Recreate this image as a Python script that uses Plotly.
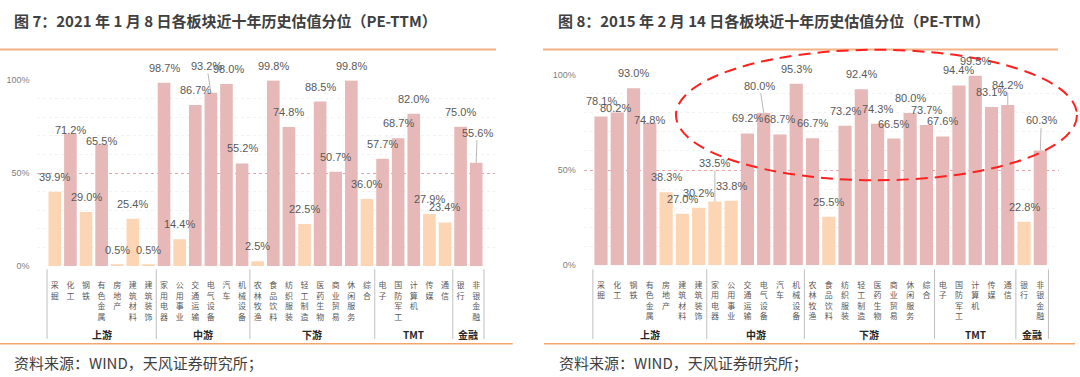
import plotly.graph_objects as go

# ---------------- data ----------------
categories = ["采掘", "化工", "钢铁", "有色金属", "房地产", "建筑材料", "建筑装饰",
              "家用电器", "公用事业", "交通运输", "电气设备", "汽车", "机械设备",
              "农林牧渔", "食品饮料", "纺织服装", "轻工制造", "医药生物", "商业贸易", "休闲服务", "综合",
              "电子", "国防军工", "计算机", "传媒", "通信",
              "银行", "非银金融"]
groups = ["上游", "中游", "下游", "TMT", "金融"]
group_sizes = [7, 6, 8, 5, 2]

pe_pct_20210108 = [39.9, 71.2, 29.0, 65.5, 0.5, 25.4, 0.5,
                   98.7, 14.4, 86.7, 93.2, 98.0, 55.2,
                   2.5, 99.8, 74.8, 22.5, 88.5, 50.7, 99.8, 36.0,
                   57.7, 68.7, 82.0, 27.9, 23.4,
                   75.0, 55.6]
pe_pct_20150214 = [78.1, 80.2, 93.0, 74.8, 38.3, 27.0, 30.2,
                   33.5, 33.8, 69.2, 80.0, 68.7, 95.3,
                   66.7, 25.5, 73.2, 92.4, 74.3, 66.5, 80.0, 73.7,
                   67.6, 94.4, 99.5, 83.1, 84.2,
                   22.8, 60.3]
y_tick_vals = [0, 50, 100]
y_tick_text = ["0%", "50%", "100%"]

title_left = "图 7：2021 年 1 月 8 日各板块近十年历史估值分位（PE-TTM）"
title_right = "图 8：2015 年 2 月 14 日各板块近十年历史估值分位（PE-TTM）"
source_text = "资料来源：WIND，天风证券研究所；"

# ---------------- style ----------------
W, H = 1080, 377
PINK = "#E6B9B8"
PEACH = "#FCD5B5"
CJK = "Noto Sans CJK SC"
NUM = "Liberation Sans Narrow, Liberation Sans, Noto Sans CJK SC"
LABEL_COLOR = "#595959"
ORANGE = "#F4B183"


def px_x(p):
    return p / W


def px_y(p):
    return (H - p) / H


panels = [
    dict(values=pe_pct_20210108, title=title_left, xa="x", ya="y",
         xdom=(37.3, 494.7), ydom=(268.0, 77.3),
         title_x=11.7, src_x=11.7, top_line=(0, 496), bot_line=(0, 512.7),
         adjust={1: dict(yshift=4), 3: dict(yshift=3), 10: dict(arrow=(-4, -27)),
                 11: dict(xshift=2), 27: dict(arrow=(1, -30))}),
    dict(values=pe_pct_20150214, title=title_right, xa="x2", ya="y2",
         xdom=(583.5, 1058.8), ydom=(267.3, 71.7),
         title_x=556, src_x=556.7, top_line=(543, 1058), bot_line=(544, 1075),
         adjust={1: dict(yshift=4, xshift=-1.5), 3: dict(yshift=3), 7: dict(arrow=(0, -38)),
                 10: dict(arrow=(-4, -27)), 25: dict(arrow=(0, -20)), 27: dict(arrow=(1, -30))}),
]

fig = go.Figure()
annotations = []
shapes = []
layout_axes = {}

tick_text = ["<br>".join(list(c)) for c in categories]

for i, p in enumerate(panels):
    vals = p["values"]
    colors = [PINK if v >= 50 else PEACH for v in vals]
    fig.add_trace(go.Bar(x=categories, y=vals, xaxis=p["xa"], yaxis=p["ya"],
                         marker=dict(color=colors, line=dict(width=0)),
                         hoverinfo="x+y", showlegend=False))
    xkey = "xaxis" if i == 0 else "xaxis2"
    ykey = "yaxis" if i == 0 else "yaxis2"
    layout_axes[xkey] = dict(
        domain=[px_x(p["xdom"][0]), px_x(p["xdom"][1])],
        anchor=p["ya"], type="category",
        tickmode="array", tickvals=categories, ticktext=tick_text,
        tickfont=dict(family=CJK, size=8, color=LABEL_COLOR),
        ticks="outside", ticklen=12, tickcolor="rgba(0,0,0,0)",
        showline=False, showgrid=False, zeroline=False, fixedrange=True,
    )
    layout_axes[ykey] = dict(
        domain=[px_y(p["ydom"][0]), px_y(p["ydom"][1])],
        anchor=p["xa"], range=[0, 100],
        tickmode="array", tickvals=y_tick_vals, ticktext=y_tick_text,
        tickfont=dict(family=NUM, size=9, color="#808080"),
        ticks="outside", ticklen=5, tickcolor="rgba(0,0,0,0)",
        showgrid=True, gridcolor="#E8A3A3", griddash="dot", gridwidth=1,
        minor=dict(dtick=10, showgrid=True, gridcolor="#F2F2F2", gridwidth=1),
        showline=False, zeroline=False, fixedrange=True,
    )

    # data labels
    for k, (c, v) in enumerate(zip(categories, vals)):
        adj = p["adjust"].get(k, {})
        txt = f"{v:.1f}%"
        base = dict(x=c, y=v, xref=p["xa"], yref=p["ya"], text=txt,
                    font=dict(family=NUM, size=11, color=LABEL_COLOR))
        if "arrow" in adj:
            ax, ay = adj["arrow"]
            base.update(showarrow=True, ax=ax, ay=ay, arrowhead=0,
                        arrowwidth=0.8, arrowcolor="#A6A6A6", standoff=0)
        else:
            base.update(showarrow=False, xanchor="center", yanchor="middle",
                        yshift=adj.get("yshift", 15), xshift=adj.get("xshift", 0))
        annotations.append(base)

    # group separators and labels
    start = 0
    bounds = [-0.5]
    for g, n in zip(groups, group_sizes):
        end = start + n
        bounds.append(end - 0.5)
        annotations.append(dict(x=(start + end - 1) / 2, y=px_y(338.5), xref=p["xa"], yref="paper",
                                text=f"<b>{g}</b>", showarrow=False, xanchor="center", yanchor="middle",
                                font=dict(family=CJK, size=10, color="#262626")))
        start = end
    for b in bounds:
        shapes.append(dict(type="line", xref=p["xa"], yref="paper", x0=b, x1=b,
                           y0=px_y(343), y1=px_y(271.5), line=dict(color="#BFBFBF", width=1)))

    # title, rules, source
    annotations.append(dict(x=px_x(p["title_x"]), y=px_y(16), xref="paper", yref="paper",
                            text=f"<b>{p['title']}</b>", showarrow=False, xanchor="left", yanchor="middle",
                            font=dict(family=CJK, size=15, color="#404040")))
    shapes.append(dict(type="line", xref="paper", yref="paper",
                       x0=px_x(p["top_line"][0]), x1=px_x(p["top_line"][1]),
                       y0=px_y(45.7), y1=px_y(45.7), line=dict(color=ORANGE, width=2)))
    shapes.append(dict(type="line", xref="paper", yref="paper",
                       x0=px_x(p["bot_line"][0]), x1=px_x(p["bot_line"][1]),
                       y0=px_y(348), y1=px_y(348), line=dict(color="#F2A66E", width=1.5)))
    annotations.append(dict(x=px_x(p["src_x"]), y=px_y(367), xref="paper", yref="paper",
                            text=source_text, showarrow=False, xanchor="left", yanchor="middle",
                            font=dict(family=CJK, size=15, color="#404040")))

# highlight ellipse on the right panel
shapes.append(dict(type="circle", xref="paper", yref="paper",
                   x0=px_x(676), x1=px_x(1077), y0=px_y(180), y1=px_y(46),
                   line=dict(color="#FF2020", width=2, dash="12px,7px"), layer="above"))

fig.update_layout(
    width=W, height=H, margin=dict(l=0, r=0, t=0, b=0),
    paper_bgcolor="white", plot_bgcolor="white",
    bargap=0.19, showlegend=False,
    annotations=annotations, shapes=shapes,
    **layout_axes,
)

fig.write_html("out.html", config={"displayModeBar": False},
               post_script="document.body.style.margin='0';")
